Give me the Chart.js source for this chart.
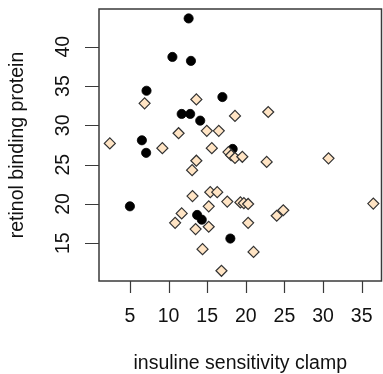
<!DOCTYPE html>
<html>
<head>
<meta charset="utf-8">
<script src="https://cdn.jsdelivr.net/npm/chart.js@4/dist/chart.umd.min.js"></script>
<style>
  html, body { margin: 0; padding: 0; background: #fff; }
  #wrap { width: 383px; height: 374px; }
</style>
</head>
<body>
<div id="wrap"><canvas id="chart" width="383" height="374"></canvas></div>
<script>
// black circles
const circleX = [12.6, 10.5, 12.9, 7.15, 16.97, 11.7, 12.8, 14.1, 6.55, 7.1, 18.3, 5.0, 13.7, 14.3, 18.0];
const circleY = [43.6, 38.7, 38.2, 34.4, 33.6, 31.45, 31.45, 30.6, 28.1, 26.5, 27.0, 19.7, 18.6, 18.0, 15.6];

// beige diamonds
const diamondX = [2.4, 6.9, 13.6, 11.3, 9.2, 14.95, 16.5, 18.6, 22.9, 15.6, 13.6, 13.05, 17.75, 18.1, 18.6, 19.55,
  22.7, 30.7, 13.1, 15.4, 16.3, 17.6, 19.3, 19.75, 20.3, 15.2, 11.7, 10.85, 13.5, 15.2, 20.3, 24.0, 24.85, 36.5,
  14.4, 21.0, 16.85];
const diamondY = [27.7, 32.8, 33.3, 29.0, 27.1, 29.3, 29.3, 31.2, 31.7, 27.1, 25.5, 24.3, 26.6, 26.2, 25.85, 26.0,
  25.35, 25.8, 21.0, 21.5, 21.5, 20.3, 20.2, 20.1, 20.0, 19.7, 18.8, 17.6, 16.8, 17.1, 17.6, 18.5, 19.2, 20.05,
  14.25, 13.9, 11.5];

const xTicks = [5, 10, 15, 20, 25, 30, 35];
const yTicks = [15, 20, 25, 30, 35, 40];

const xTitle = "insuline sensitivity clamp";
const yTitle = "retinol binding protein";

function toPoints(xs, ys) {
  return xs.map((x, i) => ({ x, y: ys[i] }));
}

const FONT = '19.5px "Liberation Sans", Arial, sans-serif';

const rAxes = {
  id: "rAxes",
  afterDraw(chart) {
    const { ctx, chartArea: a, scales } = chart;
    ctx.save();
    ctx.strokeStyle = "#3a3a3a";
    ctx.lineWidth = 1.5;
    ctx.strokeRect(a.left, a.top, a.right - a.left, a.bottom - a.top);

    ctx.lineWidth = 1.2;
    ctx.fillStyle = "#111";
    ctx.font = FONT;
    ctx.beginPath();
    xTicks.forEach((t) => {
      const px = Math.round(scales.x.getPixelForValue(t)) + 0.5;
      ctx.moveTo(px, a.bottom);
      ctx.lineTo(px, a.bottom + 12);
    });
    yTicks.forEach((t) => {
      const py = Math.round(scales.y.getPixelForValue(t)) + 0.5;
      ctx.moveTo(a.left, py);
      ctx.lineTo(a.left - 14, py);
    });
    ctx.stroke();

    ctx.textAlign = "center";
    ctx.textBaseline = "middle";
    xTicks.forEach((t) => {
      ctx.fillText(String(t), scales.x.getPixelForValue(t), 317);
    });
    yTicks.forEach((t) => {
      ctx.save();
      ctx.translate(63.5, scales.y.getPixelForValue(t));
      ctx.rotate(-Math.PI / 2);
      ctx.fillText(String(t), 0, 0);
      ctx.restore();
    });

    ctx.fillText(xTitle, (a.left + a.right) / 2, 364);
    ctx.save();
    ctx.translate(18, (a.top + a.bottom) / 2);
    ctx.rotate(-Math.PI / 2);
    ctx.fillText(yTitle, 0, 0);
    ctx.restore();
    ctx.restore();
  },
};

new Chart(document.getElementById("chart"), {
  type: "scatter",
  data: {
    datasets: [
      {
        label: "diamonds",
        data: toPoints(diamondX, diamondY),
        pointStyle: "rectRot",
        pointRadius: 5.5,
        pointBackgroundColor: "#ffe4c4",
        pointBorderColor: "#333",
        pointBorderWidth: 1.2,
      },
      {
        label: "circles",
        data: toPoints(circleX, circleY),
        pointStyle: "circle",
        pointRadius: 4.6,
        pointBackgroundColor: "#000",
        pointBorderColor: "#000",
        pointBorderWidth: 0.8,
      },
    ],
  },
  options: {
    responsive: false,
    animation: false,
    devicePixelRatio: 1,
    layout: { autoPadding: false, padding: { left: 99, right: 1.5, top: 9, bottom: 93 } },
    plugins: { legend: { display: false }, tooltip: { enabled: false } },
    scales: {
      x: { type: "linear", display: false, min: 1.0, max: 37.56 },
      y: { type: "linear", display: false, min: 10.2, max: 44.8 },
    },
  },
  plugins: [rAxes],
});
</script>
</body>
</html>
